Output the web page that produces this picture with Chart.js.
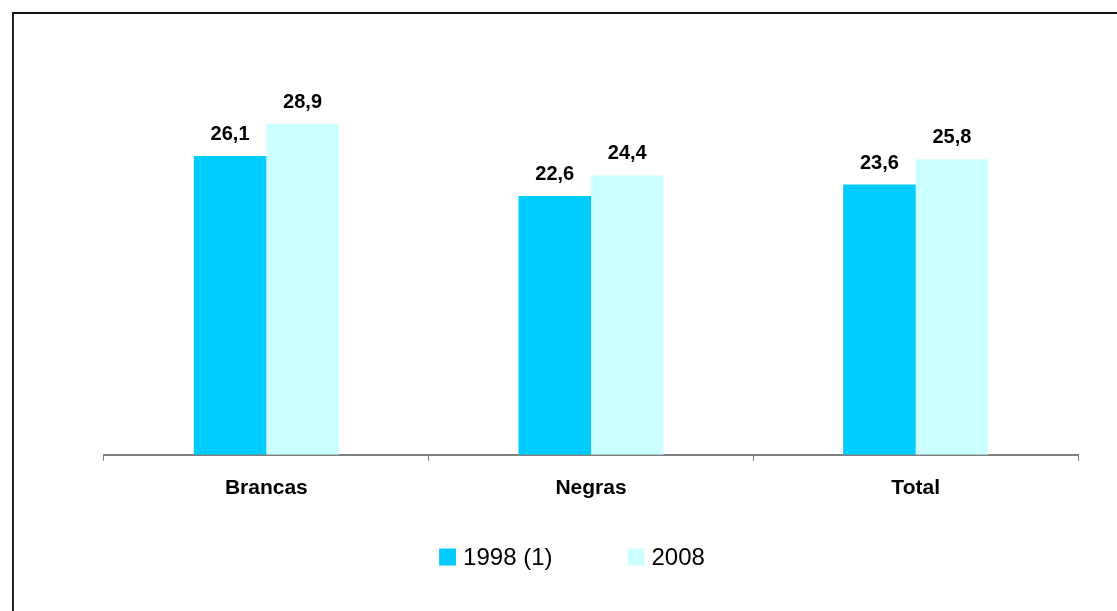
<!DOCTYPE html>
<html>
<head>
<meta charset="utf-8">
<script src="https://cdn.jsdelivr.net/npm/chart.js@4/dist/chart.umd.min.js"></script>
<style>
  html, body { margin: 0; padding: 0; background: #fff; overflow: hidden; }
  #wrap { position: relative; width: 1117px; height: 611px; }
  #frame { position: absolute; left: 12px; top: 12px; width: 1200px; height: 700px;
           border-left: 2px solid #222; border-top: 2px solid #111; pointer-events: none; }
  canvas { position: absolute; left: 0; top: 0; }
</style>
</head>
<body>
<div id="wrap">
  <canvas id="c" width="1117" height="611"></canvas>
  <div id="frame"></div>
</div>
<script>
const categories = ["Brancas", "Negras", "Total"];
const seriesNames = ["1998 (1)", "2008"];
const values1998 = [26.1, 22.6, 23.6];
const values2008 = [28.9, 24.4, 25.8];
const seriesColors = ["#00CCFF", "#CCFFFF"];

const FONT = "'Liberation Sans', Arial, Helvetica, sans-serif";

const valueLabels = {
  id: 'valueLabels',
  afterDatasetsDraw(chart) {
    const ctx = chart.ctx;
    ctx.save();
    ctx.font = "bold 20px " + FONT;
    ctx.fillStyle = "#000";
    ctx.textAlign = "center";
    ctx.textBaseline = "alphabetic";
    chart.data.datasets.forEach((ds, di) => {
      const meta = chart.getDatasetMeta(di);
      meta.data.forEach((el, i) => {
        const txt = ds.data[i].toFixed(1).replace('.', ',');
        ctx.fillText(txt, el.x, el.y - 16);
      });
    });
    ctx.restore();
  }
};

const customLegend = {
  id: 'customLegend',
  afterDraw(chart) {
    const ctx = chart.ctx;
    ctx.save();
    ctx.font = "24px " + FONT;
    ctx.textBaseline = "middle";
    ctx.textAlign = "left";
    const box = 17, gapText = 7, gapItem = 75, cy = 557, centerX = 572;
    const items = chart.data.datasets.map(ds => ({label: ds.label, color: ds.backgroundColor,
      w: box + gapText + ctx.measureText(ds.label).width}));
    const total = items.reduce((s, it) => s + it.w, 0) + gapItem * (items.length - 1);
    let x = centerX - total / 2;
    items.forEach(it => {
      ctx.fillStyle = it.color;
      ctx.fillRect(x, cy - box / 2, box, box);
      ctx.fillStyle = "#000";
      ctx.fillText(it.label, x + box + gapText, cy + 1);
      x += it.w + gapItem;
    });
    ctx.restore();
  }
};

new Chart(document.getElementById('c'), {
  type: 'bar',
  data: {
    labels: categories,
    datasets: [
      { label: seriesNames[0], data: values1998, backgroundColor: seriesColors[0], borderWidth: 0 },
      { label: seriesNames[1], data: values2008, backgroundColor: seriesColors[1], borderWidth: 0 }
    ]
  },
  options: {
    responsive: false,
    animation: false,
    devicePixelRatio: 1,
    categoryPercentage: 0.4466,
    barPercentage: 1,
    layout: { padding: { left: 66, right: 39, top: 54, bottom: 95 } },
    plugins: {
      legend: { display: false },
      tooltip: { enabled: false }
    },
    scales: {
      x: {
        grid: { display: true, drawOnChartArea: false, drawTicks: true, tickLength: 6, color: '#808080', offset: true },
        border: { display: true, color: '#808080', width: 2 },
        ticks: { color: '#000', font: { family: FONT, size: 21, weight: 'bold' }, padding: 15 }
      },
      y: {
        min: 0, max: 35,
        display: true,
        grid: { display: false },
        border: { display: false },
        ticks: { display: false },
        afterFit(s) { s.width = 38; }
      }
    }
  },
  plugins: [valueLabels, customLegend]
});
</script>
</body>
</html>
